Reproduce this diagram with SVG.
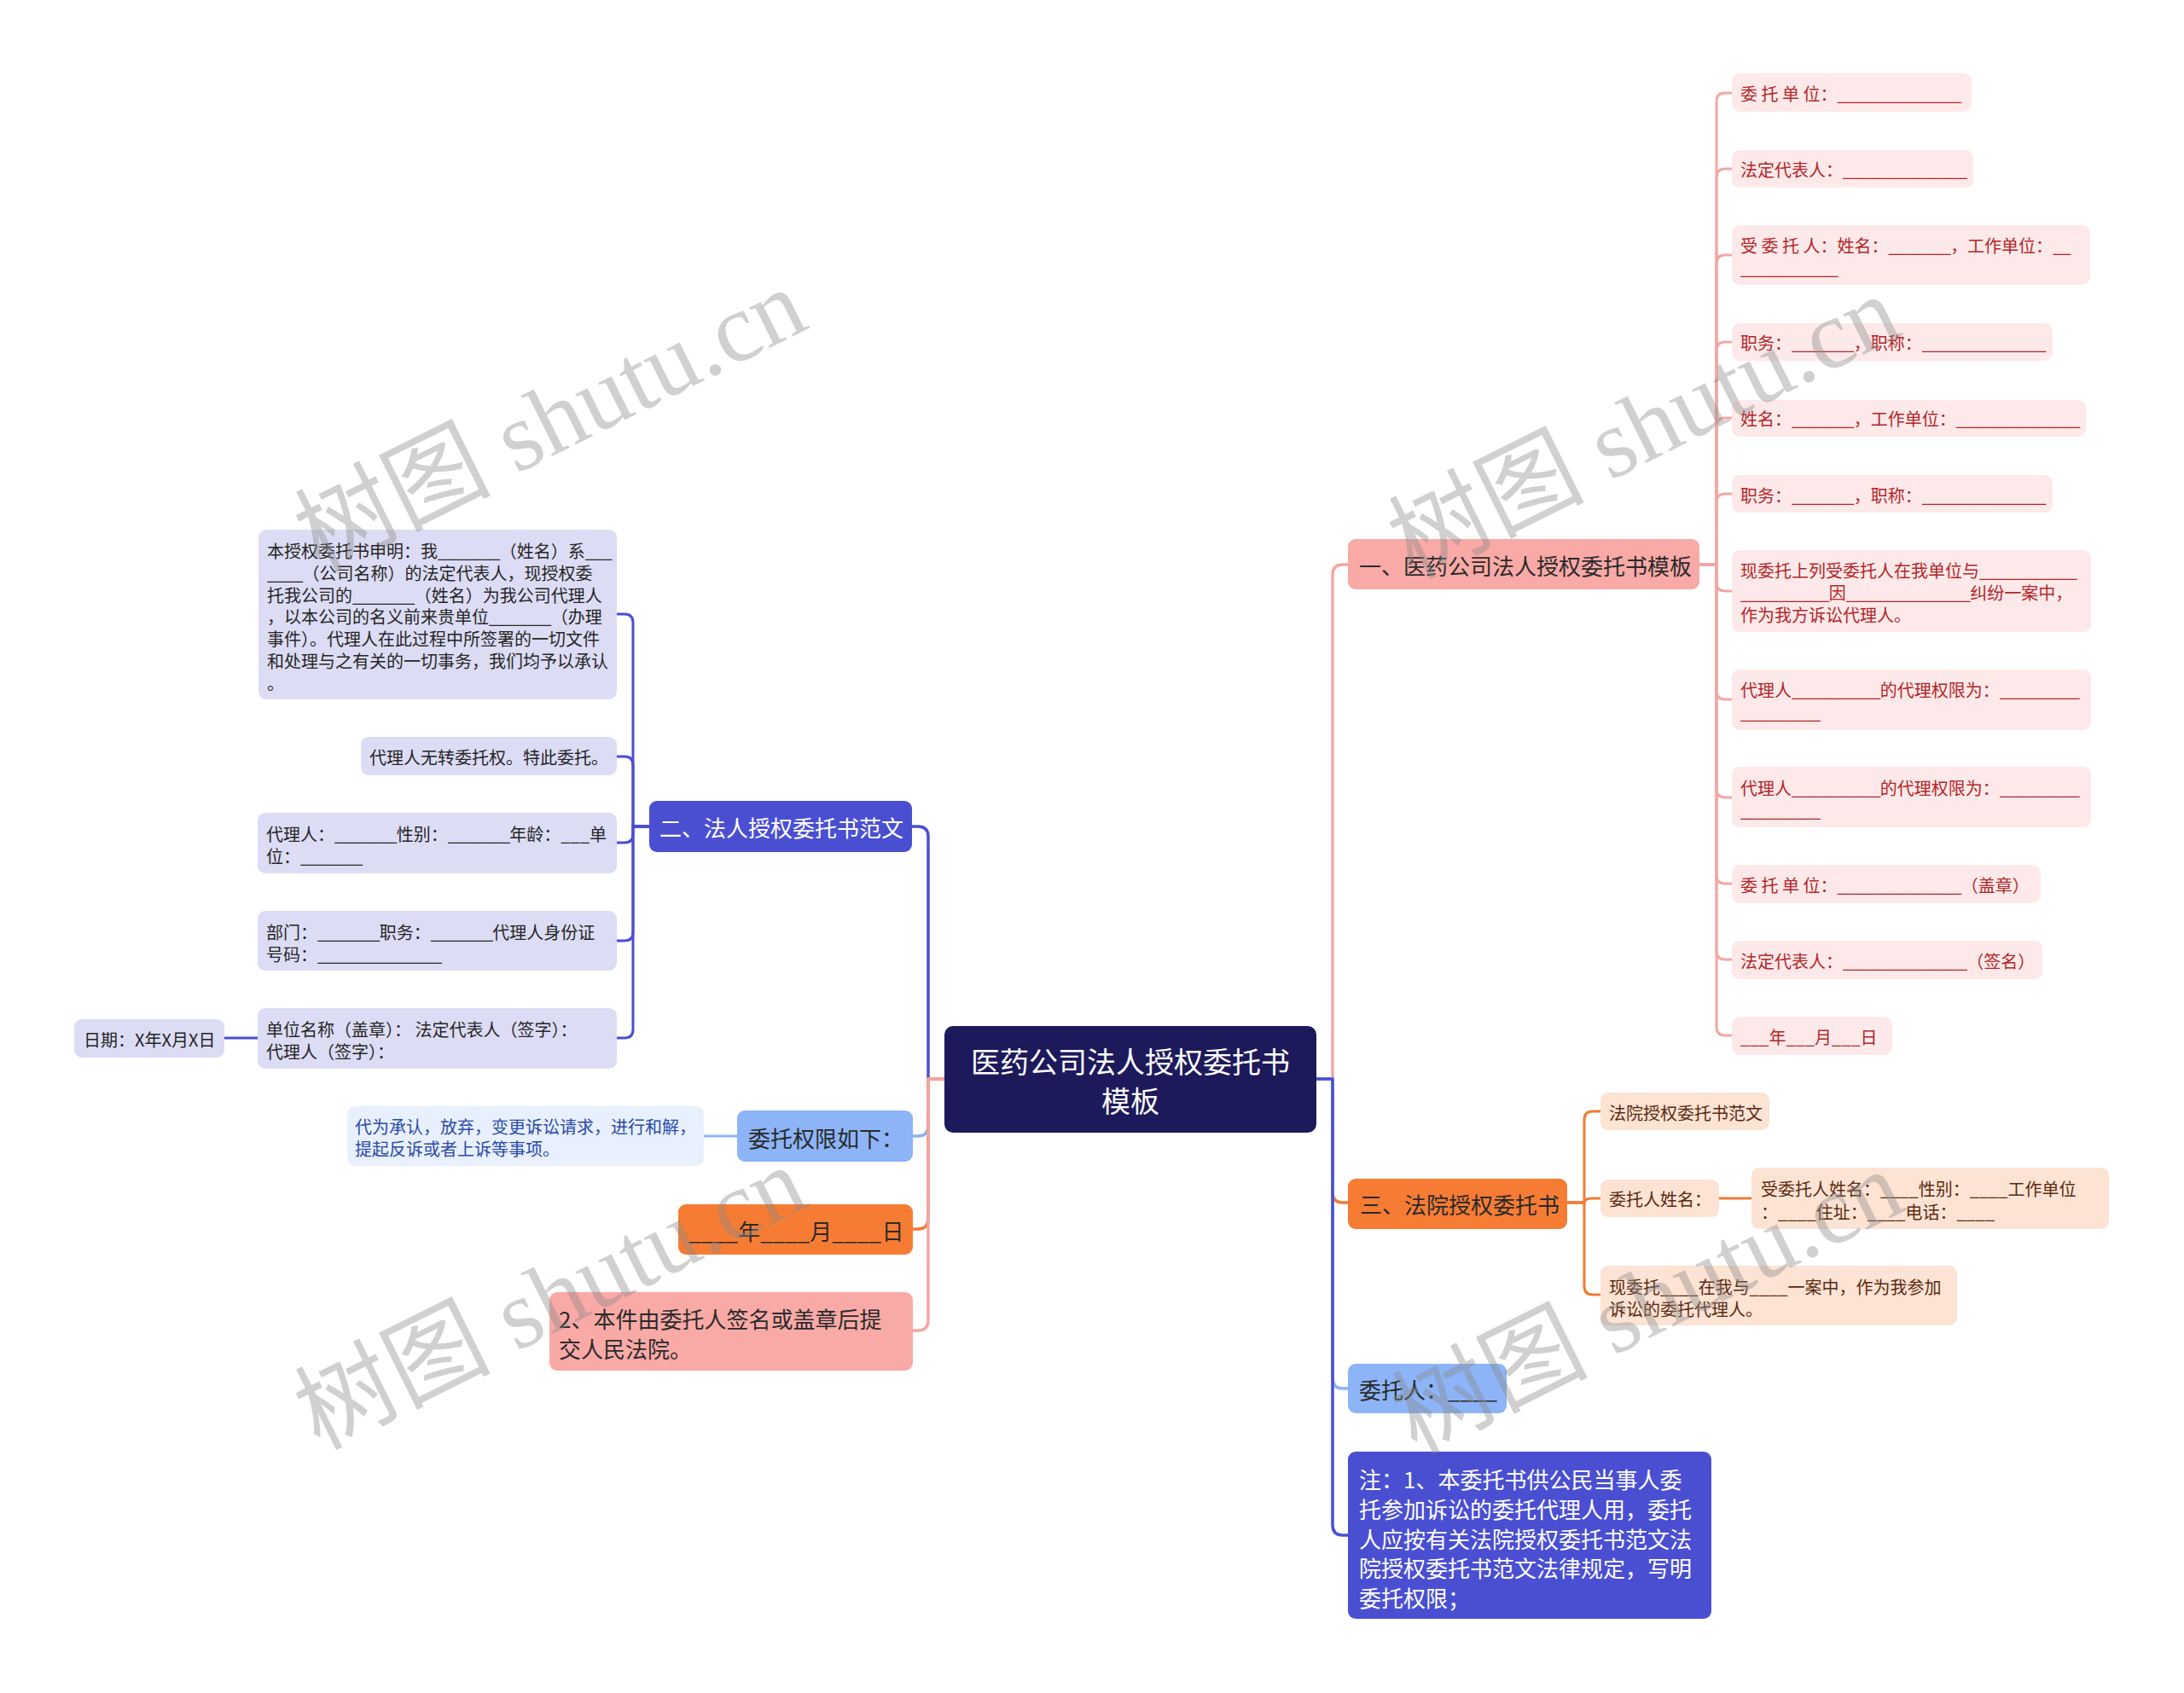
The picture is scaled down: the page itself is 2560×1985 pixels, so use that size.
<svg xmlns="http://www.w3.org/2000/svg" width="2560" height="1985" viewBox="0 0 2560 1985">
<style>
text{font-family:"Noto Sans CJK SC","Noto Sans",sans-serif;dominant-baseline:central}
.t36{font-size:34px;fill:#ffffff;text-anchor:middle}
.t26{font-size:26px;fill:#2a2a2a}
.w26{font-size:26px;fill:#ffffff}
.t20{font-size:20px}
.u{letter-spacing:-0.8px}
.red{fill:#b3262a}
.brn{fill:#5b2a12}
.dk{fill:#262626}
.blu{fill:#2a4aa8}
.c{fill:none;stroke-width:3.5;stroke-linecap:round;stroke-linejoin:round}
.s{fill:none;stroke-width:3;stroke-linecap:round;stroke-linejoin:round}
.pk{stroke:#f2a7a4}
.bl{stroke:#4a4fd2}
.lb{stroke:#8cb4f7}
.or{stroke:#f07b36}
.wm{font-family:"Liberation Serif","Noto Sans CJK SC",serif;font-size:115px;fill:#8a8a8a;fill-opacity:0.4;text-anchor:middle}
</style>
<rect width="2560" height="1985" fill="#ffffff"/>
<g id="connectors">
<path class="c bl" d="M1107 1265 H1088 V981 Q1088 969 1076 969 H1069"/>
<path class="c lb" d="M1107 1265 H1088 V1320 Q1088 1332 1076 1332 H1070"/>
<path class="c or" d="M1107 1265 H1088 V1429 Q1088 1441 1076 1441 H1070"/>
<path class="c pk" d="M1107 1265 H1088 V1548 Q1088 1560 1076 1560 H1070"/>
<path class="c pk" d="M1543 1265 H1562 V674 Q1562 662 1574 662 H1580"/>
<path class="c or" d="M1543 1265 H1562 V1398 Q1562 1410 1574 1410 H1580"/>
<path class="c lb" d="M1543 1265 H1562 V1616 Q1562 1628 1574 1628 H1580"/>
<path class="c bl" d="M1543 1265 H1562 V1788 Q1562 1800 1574 1800 H1580"/>
<g class="s pk">
<path d="M1992 662 H2012 V119 Q2012 109 2022 109 H2030"/>
<path d="M1992 662 H2012 V208 Q2012 198 2022 198 H2030"/>
<path d="M1992 662 H2012 V309 Q2012 299 2022 299 H2030"/>
<path d="M1992 662 H2012 V411 Q2012 401 2022 401 H2030"/>
<path d="M1992 662 H2012 V500 Q2012 490 2022 490 H2030"/>
<path d="M1992 662 H2012 V589 Q2012 579 2022 579 H2030"/>
<path d="M1992 662 H2012 V683 Q2012 693 2022 693 H2030"/>
<path d="M1992 662 H2012 V810 Q2012 820 2022 820 H2030"/>
<path d="M1992 662 H2012 V925 Q2012 935 2022 935 H2030"/>
<path d="M1992 662 H2012 V1026 Q2012 1036 2022 1036 H2030"/>
<path d="M1992 662 H2012 V1115 Q2012 1125 2022 1125 H2030"/>
<path d="M1992 662 H2012 V1204 Q2012 1214 2022 1214 H2030"/>
</g>
<g class="s bl">
<path d="M761 969 H742 V730 Q742 720 732 720 H723"/>
<path d="M761 969 H742 V897 Q742 887 732 887 H723"/>
<path d="M761 969 H742 V978 Q742 988 732 988 H723"/>
<path d="M761 969 H742 V1093 Q742 1103 732 1103 H723"/>
<path d="M761 969 H742 V1207 Q742 1217 732 1217 H723"/>
<path d="M302 1217 H263"/>
</g>
<g class="s or">
<path d="M1837 1410 H1857 V1313 Q1857 1303 1867 1303 H1876"/>
<path d="M1837 1410 H1857 Q1857 1405 1866 1405 H1876"/>
<path d="M1837 1410 H1857 V1508 Q1857 1518 1867 1518 H1876"/>
<path d="M2015 1405 H2053"/>
</g>
<path class="s lb" d="M864 1332 H825"/>
</g>
<g id="root">
<rect x="1107" y="1203" width="436" height="125" rx="10" fill="#1d1a5c"/>
<text class="t36" x="1325" y="1243">医药公司法人授权委托书</text>
<text class="t36" x="1325" y="1289">模板</text>
</g>
<g id="n1">
<rect x="1580" y="632" width="412" height="59" rx="9" fill="#f9a9a6"/>
<text class="t26" x="1593" y="662">一、医药公司法人授权委托书模板</text>
</g>
<g id="n1-1"><rect x="2030" y="86" width="281" height="45" rx="9" fill="#fde9e9"/><text class="t20 red" x="2040" y="109">委 托 单 位：<tspan class="u">______________</tspan></text></g>
<g id="n1-2"><rect x="2030" y="176" width="283" height="44" rx="9" fill="#fde9e9"/><text class="t20 red" x="2040" y="198">法定代表人：<tspan class="u">______________</tspan></text></g>
<g id="n1-3"><rect x="2030" y="264" width="420" height="70" rx="9" fill="#fde9e9"/><text class="t20 red" x="2040" y="287">受 委 托 人：姓名：<tspan class="u">_______</tspan>，工作单位：<tspan class="u">__</tspan></text><text class="t20 red" x="2040" y="313"><tspan class="u">___________</tspan></text></g>
<g id="n1-4"><rect x="2030" y="379" width="376" height="44" rx="9" fill="#fde9e9"/><text class="t20 red" x="2040" y="401">职务：<tspan class="u">_______</tspan>，职称：<tspan class="u">______________</tspan></text></g>
<g id="n1-5"><rect x="2030" y="469" width="415" height="43" rx="9" fill="#fde9e9"/><text class="t20 red" x="2040" y="490">姓名：<tspan class="u">_______</tspan>，工作单位：<tspan class="u">______________</tspan></text></g>
<g id="n1-6"><rect x="2030" y="557" width="376" height="44" rx="9" fill="#fde9e9"/><text class="t20 red" x="2040" y="580">职务：<tspan class="u">_______</tspan>，职称：<tspan class="u">______________</tspan></text></g>
<g id="n1-7"><rect x="2030" y="645" width="421" height="96" rx="9" fill="#fde9e9"/><text class="t20 red" x="2040" y="668">现委托上列受委托人在我单位与<tspan class="u">___________</tspan></text><text class="t20 red" x="2040" y="694"><tspan class="u">__________</tspan>因<tspan class="u">______________</tspan>纠纷一案中，</text><text class="t20 red" x="2040" y="720">作为我方诉讼代理人。</text></g>
<g id="n1-8"><rect x="2030" y="785" width="421" height="71" rx="9" fill="#fde9e9"/><text class="t20 red" x="2040" y="808">代理人<tspan class="u">__________</tspan>的代理权限为：<tspan class="u">_________</tspan></text><text class="t20 red" x="2040" y="834"><tspan class="u">_________</tspan></text></g>
<g id="n1-9"><rect x="2030" y="899" width="421" height="71" rx="9" fill="#fde9e9"/><text class="t20 red" x="2040" y="923">代理人<tspan class="u">__________</tspan>的代理权限为：<tspan class="u">_________</tspan></text><text class="t20 red" x="2040" y="949"><tspan class="u">_________</tspan></text></g>
<g id="n1-10"><rect x="2030" y="1014" width="362" height="45" rx="9" fill="#fde9e9"/><text class="t20 red" x="2040" y="1037">委 托 单 位：<tspan class="u">______________</tspan>（盖章）</text></g>
<g id="n1-11"><rect x="2030" y="1103" width="364" height="45" rx="9" fill="#fde9e9"/><text class="t20 red" x="2040" y="1126">法定代表人：<tspan class="u">______________</tspan>（签名）</text></g>
<g id="n1-12"><rect x="2030" y="1192" width="188" height="45" rx="9" fill="#fde9e9"/><text class="t20 red" x="2040" y="1215">___年___月___日</text></g>
<g id="n2">
<rect x="761" y="939" width="308" height="60" rx="9" fill="#4a4fd2"/>
<text class="w26" x="773" y="969">二、法人授权委托书范文</text>
</g>
<g id="n2-1"><rect x="303" y="621" width="420" height="199" rx="9" fill="#dcdcf5"/>
<text class="t20 dk" x="313" y="645">本授权委托书申明：我<tspan class="u">_______</tspan>（姓名）系<tspan class="u">___</tspan></text>
<text class="t20 dk" x="313" y="671"><tspan class="u">____</tspan>（公司名称）的法定代表人，现授权委</text>
<text class="t20 dk" x="313" y="697">托我公司的<tspan class="u">_______</tspan>（姓名）为我公司代理人</text>
<text class="t20 dk" x="313" y="722">，以本公司的名义前来贵单位<tspan class="u">_______</tspan>（办理</text>
<text class="t20 dk" x="313" y="748">事件）。代理人在此过程中所签署的一切文件</text>
<text class="t20 dk" x="313" y="774">和处理与之有关的一切事务，我们均予以承认</text>
<text class="t20 dk" x="313" y="800">。</text></g>
<g id="n2-2"><rect x="423" y="864" width="300" height="45" rx="9" fill="#dcdcf5"/><text class="t20 dk" x="433" y="887">代理人无转委托权。特此委托。</text></g>
<g id="n2-3"><rect x="302" y="953" width="421" height="71" rx="9" fill="#dcdcf5"/><text class="t20 dk" x="312" y="977">代理人：<tspan class="u">_______</tspan>性别：<tspan class="u">_______</tspan>年龄：___单</text><text class="t20 dk" x="312" y="1003">位：<tspan class="u">_______</tspan></text></g>
<g id="n2-4"><rect x="302" y="1068" width="421" height="70" rx="9" fill="#dcdcf5"/><text class="t20 dk" x="312" y="1092">部门：<tspan class="u">_______</tspan>职务：<tspan class="u">_______</tspan>代理人身份证</text><text class="t20 dk" x="312" y="1118">号码：<tspan class="u">______________</tspan></text></g>
<g id="n2-5"><rect x="302" y="1182" width="421" height="71" rx="9" fill="#dcdcf5"/><text class="t20 dk" x="312" y="1206">单位名称（盖章）： 法定代表人（签字）：</text><text class="t20 dk" x="312" y="1232">代理人（签字）：</text></g>
<g id="n2-6"><rect x="87" y="1195" width="176" height="45" rx="9" fill="#dcdcf5"/><text class="t20 dk" x="98" y="1218">日期：X年X月X日</text></g>
<g id="n3">
<rect x="864" y="1302" width="206" height="60" rx="9" fill="#8cb4f7"/>
<text class="t26" x="877" y="1333">委托权限如下：</text>
</g>
<g id="n3-1"><rect x="407" y="1297" width="418" height="70" rx="9" fill="#e8f0fd"/><text class="t20 blu" x="416" y="1320">代为承认，放弃，变更诉讼请求，进行和解，</text><text class="t20 blu" x="416" y="1346">提起反诉或者上诉等事项。</text></g>
<g id="n4">
<rect x="795" y="1412" width="275" height="59" rx="9" fill="#f77c33"/>
<text class="t26" x="807" y="1442">____年____月____日</text>
</g>
<g id="n5">
<rect x="644" y="1515" width="426" height="92" rx="9" fill="#f9a9a6"/>
<text class="t26" x="655" y="1545">2、本件由委托人签名或盖章后提</text>
<text class="t26" x="655" y="1580">交人民法院。</text>
</g>
<g id="n6">
<rect x="1580" y="1382" width="257" height="59" rx="9" fill="#f77c33"/>
<text class="t26" x="1594" y="1411">三、法院授权委托书</text>
</g>
<g id="n6-1"><rect x="1876" y="1281" width="198" height="44" rx="9" fill="#fde3d3"/><text class="t20 brn" x="1886" y="1304">法院授权委托书范文</text></g>
<g id="n6-2"><rect x="1876" y="1383" width="139" height="44" rx="9" fill="#fde3d3"/><text class="t20 brn" x="1886" y="1405">委托人姓名：</text></g>
<g id="n6-3"><rect x="2053" y="1369" width="419" height="72" rx="9" fill="#fde3d3"/><text class="t20 brn" x="2064" y="1393">受委托人姓名：____性别：____工作单位</text><text class="t20 brn" x="2064" y="1420">：____住址：____电话：____</text></g>
<g id="n6-4"><rect x="1876" y="1484" width="418" height="70" rx="9" fill="#fde3d3"/><text class="t20 brn" x="1886" y="1508">现委托____在我与____一案中，作为我参加</text><text class="t20 brn" x="1886" y="1534">诉讼的委托代理人。</text></g>
<g id="n7">
<rect x="1580" y="1599" width="186" height="58" rx="9" fill="#8cb4f7"/>
<text class="t26" x="1593" y="1628">委托人：____</text>
</g>
<g id="n8">
<rect x="1580" y="1702" width="426" height="196" rx="9" fill="#4a4fd2"/>
<text class="w26" x="1593" y="1733">注：1、本委托书供公民当事人委</text>
<text class="w26" x="1593" y="1768">托参加诉讼的委托代理人用，委托</text>
<text class="w26" x="1593" y="1803">人应按有关法院授权委托书范文法</text>
<text class="w26" x="1593" y="1837">院授权委托书范文法律规定，写明</text>
<text class="w26" x="1593" y="1872">委托权限；</text>
</g>
<g id="watermark">
<text class="wm" transform="translate(645 493) rotate(-26.5)">树图 shutu.cn</text>
<text class="wm" transform="translate(1927 501) rotate(-26.5)">树图 shutu.cn</text>
<text class="wm" transform="translate(645 1522) rotate(-26.5)">树图 shutu.cn</text>
<text class="wm" transform="translate(1931 1527) rotate(-26.5)">树图 shutu.cn</text>
</g>
</svg>
